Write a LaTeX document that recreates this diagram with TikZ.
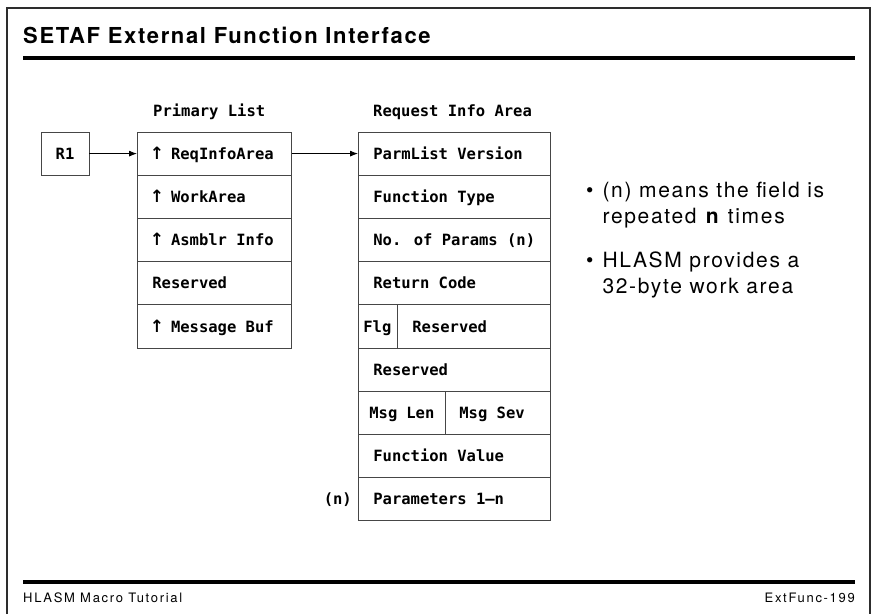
\documentclass[tikz,border=0pt]{standalone}
\usepackage{fontspec}
\setmainfont{TeX Gyre Heros}
\newfontfamily\titlefont[LetterSpace=7.5]{TeX Gyre Heros}
\newfontfamily\notefont[LetterSpace=8]{TeX Gyre Heros}
\newfontfamily\footfont[LetterSpace=13]{TeX Gyre Heros}
\newfontfamily\boxfont{DejaVu Sans Mono}
\newfontfamily\arrfont{DejaVu Sans}
\newcommand\uparr{\makebox[9.33pt]{\arrfont\fontsize{17}{17}\selectfont↑}}
\usepackage{color}
\definecolor{boxgray}{RGB}{70,70,70}
\definecolor{framegray}{RGB}{45,45,45}
\usepackage{tikz}
\usetikzlibrary{arrows.meta,positioning}
\tikzset{cellw/.style={execute at begin node={\hbox to #1\bgroup},execute at end node={\hfil\egroup}}}
\tikzstyle{field}=[draw=boxgray,line width=0.8pt,anchor=west,minimum height=43.2pt,inner xsep=15pt,inner ysep=0pt,text height=11.3pt,text depth=0pt,font=\boxfont\bfseries\fontsize{15.5}{18}\selectfont]
\tikzstyle{pcell}=[field,cellw=124pt]
\tikzstyle{qcell}=[field,cellw=162pt]
\tikzstyle{regbox}=[draw=boxgray,line width=0.8pt,minimum width=48pt,minimum height=43.2pt,inner sep=0pt,text height=11.3pt,text depth=0pt,font=\boxfont\bfseries\fontsize{15.5}{18}\selectfont]
\tikzstyle{lbl}=[inner sep=0pt,text height=11.3pt,text depth=0pt,font=\boxfont\bfseries\fontsize{15.5}{18}\selectfont]
\tikzstyle{note}=[anchor=base west,inner sep=0pt,font=\notefont\fontsize{21}{26}\selectfont]
\tikzstyle{foot}=[inner sep=0pt,font=\footfont\fontsize{13}{15}\selectfont]
\tikzstyle{hrule}=[line width=4pt]

\begin{document}
\begin{tikzpicture}[x=1pt,y=-1pt,>={Latex[length=8pt,width=6pt]}]
\useasboundingbox (0,0) rectangle (872,614);
% page frame and rules
\draw[framegray,line width=1.2pt] (7,614) -- (7,8) -- (870,8) -- (870,614);
\draw (23,43) node [anchor=base west,inner sep=0pt,font=\titlefont\bfseries\fontsize{22}{26}\selectfont] (title) {SETAF External Function Interface};
\draw[hrule] (23,58) -- (855,58);
\draw[hrule] (23,582) -- (855,582);
\draw (23,602) node [foot,anchor=base west] (footl) {HLASM Macro Tutorial};
\draw (855,602) node [foot,anchor=base east] (footr) {ExtFunc-199};

% register
\draw (65,153.6) node [regbox] (reg) {R1};

% primary list
\draw (153,116) node [lbl,anchor=base west,text height=] (plist) {Primary List};
\draw (137,153.6) node [pcell] (p1) {\uparr{} ReqInfoArea};
\draw (137,196.8) node [pcell] (p2) {\uparr{} WorkArea};
\draw (137,240.0) node [pcell] (p3) {\uparr{} Asmblr Info};
\draw (137,283.2) node [pcell] (p4) {Reserved};
\draw (137,326.4) node [pcell] (p5) {\uparr{} Message Buf};

% request info area
\draw (373,116) node [lbl,anchor=base west,text height=] (rlist) {Request Info Area};
\draw (358,153.6) node [qcell] (q1) {ParmList Version};
\draw (358,196.8) node [qcell] (q2) {Function Type};
\draw (358,240.0) node [qcell] (q3) {No. of Params (n)};
\draw (358,283.2) node [qcell] (q4) {Return Code};
\draw (358,326.4) node [field,inner xsep=5pt,cellw=29pt] (q5a) {Flg};
\draw (397,326.4) node [field,cellw=123pt] (q5b) {Reserved};
\draw (358,369.6) node [qcell] (q6) {Reserved};
\draw (358,412.8) node [field,inner xsep=11pt,cellw=65pt] (q7a) {Msg Len};
\draw (445,412.8) node [field,inner xsep=14pt,cellw=77pt] (q7b) {Msg Sev};
\draw (358,456.0) node [qcell] (q8) {Function Value};
\draw (358,499.2) node [qcell] (q9) {Parameters 1–n};
\node [lbl,left=6pt of q9] (rep) {(n)};

\draw[->,line width=0.8pt] (reg) -- (p1);
\draw[->,line width=0.8pt] (p1) -- (q1);

% notes
\draw (586,197) node [note] (note1) {\begin{tabular}[t]{@{}l@{\hspace{9pt}}l@{}}\textbullet & (n) means the field is\\ & repeated \textbf{n} times\end{tabular}};
\draw (586,267) node [note] (note2) {\begin{tabular}[t]{@{}l@{\hspace{9pt}}l@{}}\textbullet & HLASM provides a\\ & 32-byte work area\end{tabular}};
\end{tikzpicture}
\end{document}
